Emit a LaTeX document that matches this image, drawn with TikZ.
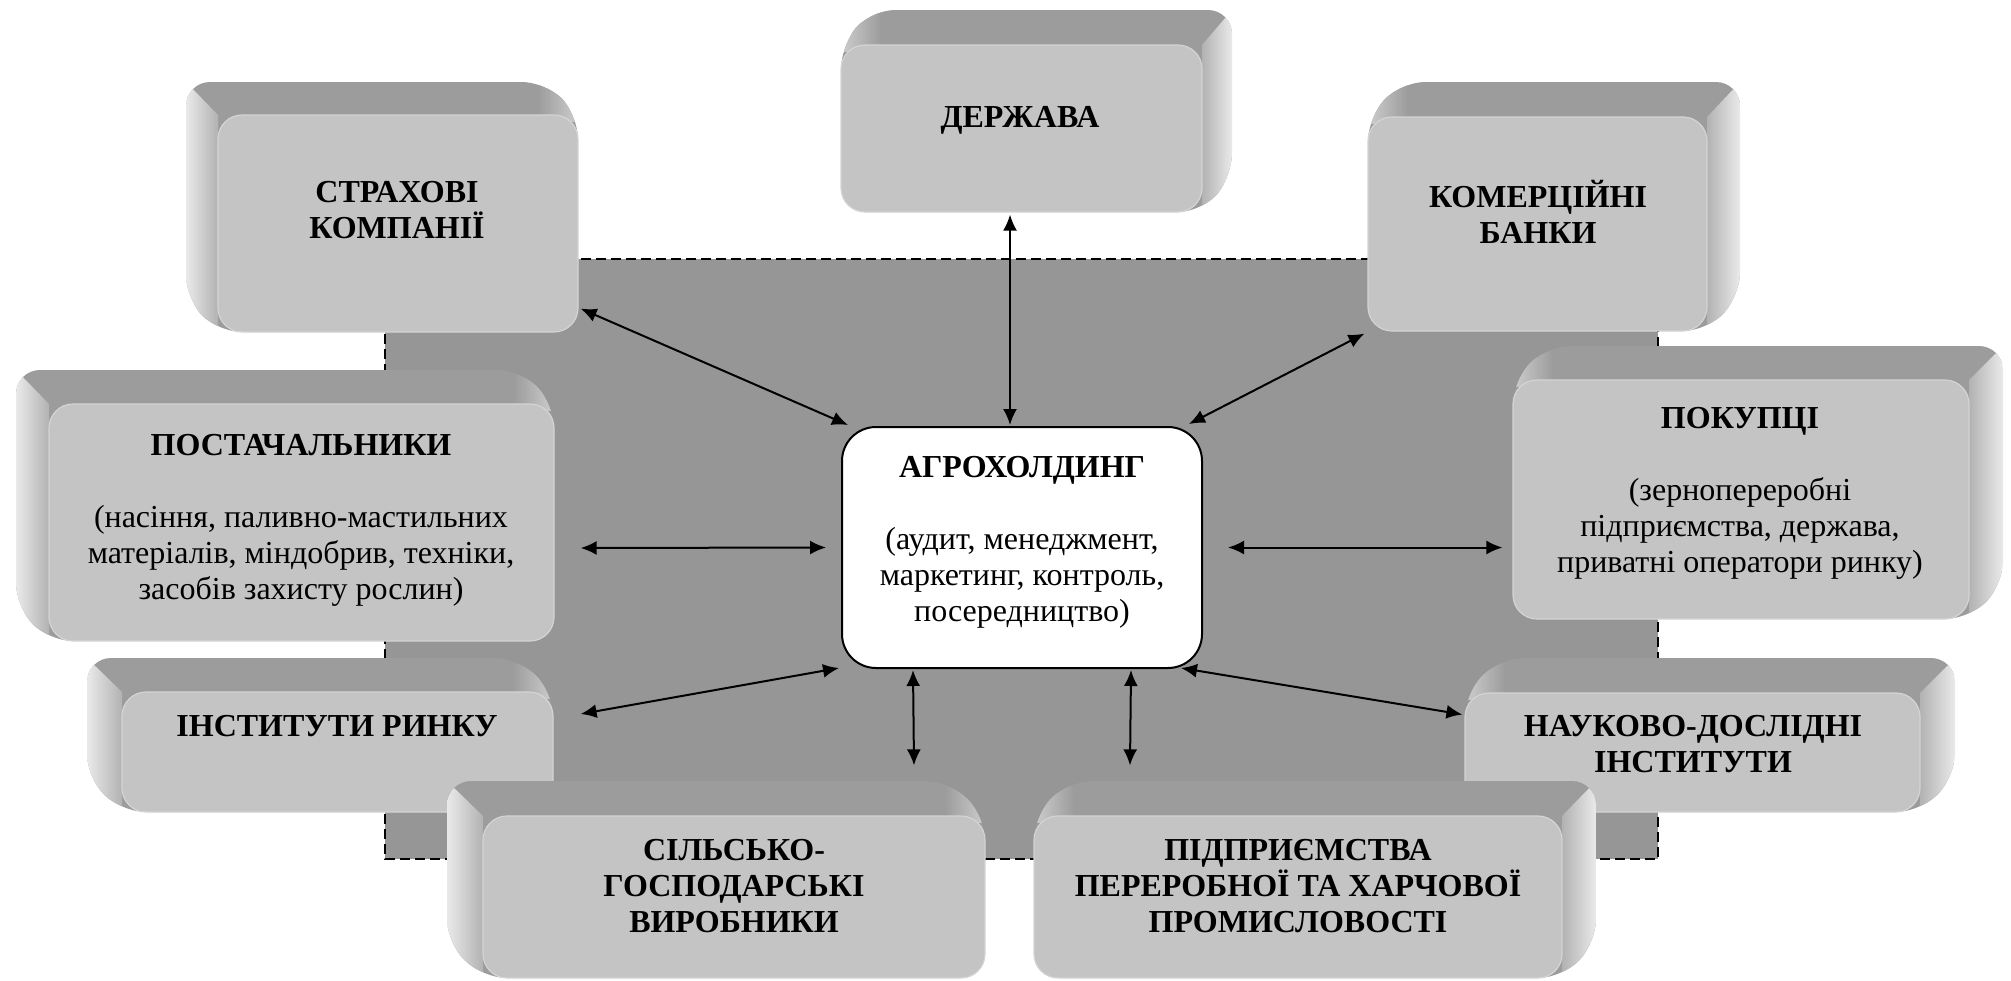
\documentclass[tikz,border=0pt]{standalone}
\usepackage{fontspec}
\setmainfont{Liberation Serif}
\usetikzlibrary{arrows.meta,calc}

\definecolor{bgdark}{RGB}{150,150,150}
\definecolor{frontc}{RGB}{196,196,196}
\definecolor{topc}{RGB}{156,156,156}
\definecolor{sidel}{RGB}{234,234,234}
\definecolor{sided}{RGB}{178,178,178}
\definecolor{rimc}{RGB}{212,212,212}
\definecolor{bevl}{RGB}{205,205,205}

\tikzset{
  front/.style={fill=frontc, draw=rimc, line width=0.6pt, rounded corners=12pt, inner sep=0pt},
  lbl/.style={align=center, font=\fontsize{16}{18}\selectfont, inner sep=0pt},
  ttl/.style={lbl, font=\fontsize{16}{18}\selectfont\bfseries},
  centre/.style={fill=white, draw=black, line width=1pt, rounded corners=17pt, inner sep=0pt},
  arr/.style={{Latex[length=8pt,width=7pt]}-{Latex[length=8pt,width=7pt]}, line width=1pt},
  backdrop/.style={fill=bgdark, draw=black, line width=0.8pt, dash pattern=on 5pt off 2.5pt},
}

% box extruded up-left: name, x1,y1,x2,y2 (front face), dx,dy (offset of back face)
\newcommand\lbox[7]{%
  \pgfmathsetmacro\Ax{#2+#6}\pgfmathsetmacro\Ay{#3+#7}%
  \pgfmathsetmacro\Bx{#4+#6}\pgfmathsetmacro\By{#5+#7}%
  \pgfmathsetmacro\Cx{(#2+#4)/2}\pgfmathsetmacro\Cy{(#3+#5)/2}%
  \pgfmathsetmacro\W{(#4-#2)*0.5}\pgfmathsetmacro\H{(#5-#3)*0.5}%
  \pgfmathsetmacro\Ex{#4-#6*0.0-40}\pgfmathsetmacro\Ey{#3+6}%
  \begin{scope}
    \clip[rounded corners=12pt] (\Ax,\Ay) -- (\Bx,\Ay) -- (#4,#3) -- (#4,#5) -- (#2,#5) -- (\Ax,\By) -- cycle;
    \fill[topc] (\Ax,\Ay) rectangle (#4,#5);
    \shade[left color=topc, right color=bevl] (\Ex,\Ay) rectangle (#4,\Ey);
    \shade[left color=sidel, right color=sided] (\Ax,\Ay) -- (#2,#3) -- (#2,#5) -- (\Ax,\By) -- cycle;
  \end{scope}
  \node[front, minimum width=\W pt, minimum height=\H pt] (#1) at (\Cx,\Cy) {};
}
% box extruded up-right
\newcommand\rbox[7]{%
  \pgfmathsetmacro\Ax{#2+#6}\pgfmathsetmacro\Ay{#3+#7}%
  \pgfmathsetmacro\Bx{#4+#6}\pgfmathsetmacro\By{#5+#7}%
  \pgfmathsetmacro\Cx{(#2+#4)/2}\pgfmathsetmacro\Cy{(#3+#5)/2}%
  \pgfmathsetmacro\W{(#4-#2)*0.5}\pgfmathsetmacro\H{(#5-#3)*0.5}%
  \pgfmathsetmacro\Ex{#2+40}\pgfmathsetmacro\Ey{#3+6}%
  \begin{scope}
    \clip[rounded corners=12pt] (#2,#3) -- (\Ax,\Ay) -- (\Bx,\Ay) -- (\Bx,\By) -- (#4,#5) -- (#2,#5) -- cycle;
    \fill[topc] (#2,\Ay) rectangle (\Bx,#5);
    \shade[left color=bevl, right color=topc] (#2,\Ay) rectangle (\Ex,\Ey);
    \shade[left color=sided, right color=sidel] (#4,#3) -- (\Bx,\Ay) -- (\Bx,\By) -- (#4,#5) -- cycle;
  \end{scope}
  \node[front, minimum width=\W pt, minimum height=\H pt] (#1) at (\Cx,\Cy) {};
}

\begin{document}
\begin{tikzpicture}[x=0.5pt,y=-0.5pt]
  \fill[white] (0,0) rectangle (2011,980);
  \useasboundingbox (0,0) rectangle (2011,980);

  % dashed backdrop
  \draw[backdrop] (385,259) rectangle (1658,859);

  % top row
  \lbox{strakh}{218}{115}{578}{332}{-32}{-33}
  \node[ttl] (strakh-t) at (397,210) {СТРАХОВІ\\КОМПАНІЇ};
  \rbox{derzh}{841}{45}{1202}{212}{30}{-35}
  \node[ttl] (derzh-t) at (1020,120) {ДЕРЖАВА};
  \rbox{komer}{1368}{117}{1707}{331}{33}{-35}
  \node[ttl] (komer-t) at (1538,212) {КОМЕРЦІЙНІ\\БАНКИ};

  % middle row
  \lbox{post}{49}{404}{554}{641}{-33}{-34}
  \node[lbl] (post-t) at (301,520) {{\bfseries ПОСТАЧАЛЬНИКИ}\\[18pt](насіння, паливно-мастильних\\матеріалів, міндобрив, техніки,\\засобів захисту рослин)};
  \rbox{pokup}{1513}{380}{1969}{619}{34}{-34}
  \node[lbl] (pokup-t) at (1740,493) {{\bfseries ПОКУПЦІ}\\[18pt](зернопереробні\\підприємства, держава,\\приватні оператори ринку)};

  % lower row
  \lbox{inst}{122}{692}{553}{812}{-35}{-34}
  \node[ttl] (inst-t) at (337,726) {ІНСТИТУТИ РИНКУ};
  \rbox{nauk}{1465}{693}{1920}{812}{35}{-35}
  \node[ttl] (nauk-t) at (1693,744) {НАУКОВО-ДОСЛІДНІ\\ІНСТИТУТИ};

  % bottom row
  \lbox{silsk}{483}{816}{985}{978}{-36}{-35}
  \node[ttl] (silsk-t) at (734,886) {СІЛЬСЬКО-\\ГОСПОДАРСЬКІ\\ВИРОБНИКИ};
  \rbox{pidpr}{1034}{816}{1562}{978}{34}{-35}
  \node[ttl] (pidpr-t) at (1298,886) {ПІДПРИЄМСТВА\\ПЕРЕРОБНОЇ ТА ХАРЧОВОЇ\\ПРОМИСЛОВОСТІ};

  % centre
  \node[centre, minimum width=180pt, minimum height=120.5pt] (agro) at (1022,547.5) {};
  \node[lbl] (agro-t) at (1022,542) {{\bfseries АГРОХОЛДИНГ}\\[18pt](аудит, менеджмент,\\маркетинг, контроль,\\посередництво)};

  % connectors
  \draw[arr] ($(strakh.south east)+(2,-24)$) -- ($(agro.north west)+(7,-1)$);
  \draw[arr] ($(derzh.south)+(-11.5,2)$) -- ($(agro.north)+(-12,-1)$);
  \draw[arr] ($(komer.south west)+(-3,2)$) -- ($(agro.north east)+(-14,-2)$);
  \draw[arr] ($(post.east)+(26,25.5)$) -- ($(agro.west)+(-15,0)$);
  \draw[arr] ($(agro.east)+(25,0)$) -- ($(pokup.west)+(-10,48)$);
  \draw[arr] ($(inst.east)+(27,-38)$) -- ($(agro.south west)+(-2,-1)$);
  \draw[arr] ($(agro.south west)+(72,1)$) -- ($(silsk.north)+(180,-50)$);
  \draw[arr] ($(agro.south east)+(-72,1)$) -- ($(pidpr.north)+(-168,-50)$);
  \draw[arr] ($(agro.south east)+(-22,-1)$) -- ($(nauk.west)+(-2,-38)$);
\end{tikzpicture}
\end{document}
